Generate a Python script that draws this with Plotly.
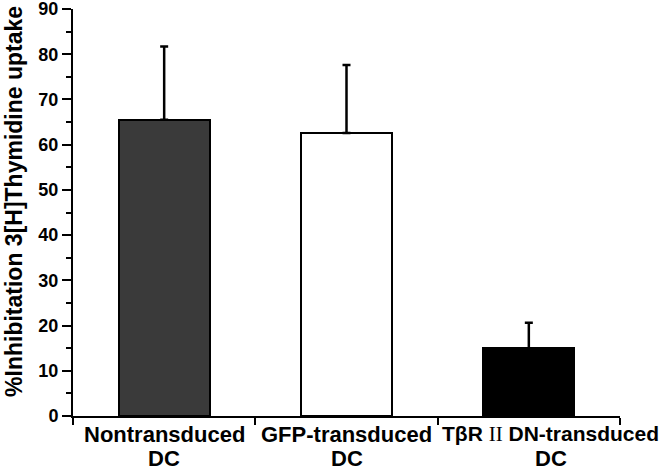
import plotly.graph_objects as go

cat_line1 = ["Nontransduced", "GFP-transduced",
             "TβR <span style='font-family:Liberation Serif;font-weight:normal'>II</span> DN-transduced"]
cat_line2 = ["DC", "DC", "DC"]
values = [65.5, 62.6, 15.0]
errors_up = [16.2, 15.0, 5.6]
bar_colors = ["#3a3a3a", "#ffffff", "#000000"]
y_ticks = [0, 10, 20, 30, 40, 50, 60, 70, 80, 90]
y_title = "%Inhibitation 3[H]Thymidine uptake"

x_pos = list(range(len(values)))
label_xshift = [0, 0, 22]
label1_size = [22, 22, 21]

fig = go.Figure()
fig.add_trace(go.Bar(
    x=x_pos, y=values, width=0.5,
    marker=dict(color=bar_colors, line=dict(color="black", width=2)),
    error_y=dict(type="data", array=errors_up, arrayminus=[0] * len(values),
                 symmetric=False, color="black", thickness=2.5, width=4),
    showlegend=False,
))

font_main = "Liberation Sans"
fig.update_layout(
    width=661, height=470,
    margin=dict(l=73, r=41, t=9, b=54, autoexpand=False),
    paper_bgcolor="white", plot_bgcolor="white",
    font=dict(family=font_main, color="black"),
    bargap=0,
)
fig.update_xaxes(
    range=[-0.5, 2.5], automargin=False,
    tickvals=x_pos, ticktext=["", "", ""], tickangle=0,
    ticks="", showline=True, linecolor="black", linewidth=2,
    minor=dict(tickmode="array", tickvals=[-0.5, 0.5, 1.5, 2.5], ticks="outside",
               ticklen=7, tickwidth=2, tickcolor="black"),
    showgrid=False, zeroline=False,
)
fig.update_yaxes(
    range=[0, 90], automargin=False,
    tickvals=y_ticks, ticklabeloverflow="allow",
    ticks="outside", ticklen=9, tickwidth=2, tickcolor="black",
    showline=True, linecolor="black", linewidth=2,
    tickfont=dict(family=font_main, size=18, color="black", weight="bold"),
    minor=dict(dtick=5, ticks="outside", ticklen=5, tickwidth=2, tickcolor="black"),
    showgrid=False, zeroline=False,
)
for xi, l1, l2, dx, fs in zip(x_pos, cat_line1, cat_line2, label_xshift, label1_size):
    fig.add_annotation(text=l1, x=xi, xref="x", y=0, yref="paper", showarrow=False,
                       xanchor="center", yanchor="middle", yshift=-18, xshift=dx,
                       font=dict(family=font_main, size=fs, color="black", weight="bold"))
    fig.add_annotation(text=l2, x=xi, xref="x", y=0, yref="paper", showarrow=False,
                       xanchor="center", yanchor="middle", yshift=-42, xshift=dx,
                       font=dict(family=font_main, size=22, color="black", weight="bold"))
fig.add_annotation(
    text=y_title, textangle=-90, showarrow=False,
    xref="paper", yref="paper", x=0, y=0.526, xanchor="center", yanchor="middle",
    xshift=-59,
    font=dict(family=font_main, size=23, color="black", weight="bold"),
)

fig.write_html("out.html", config={"displayModeBar": False},
               post_script="document.body.style.margin='0';")
